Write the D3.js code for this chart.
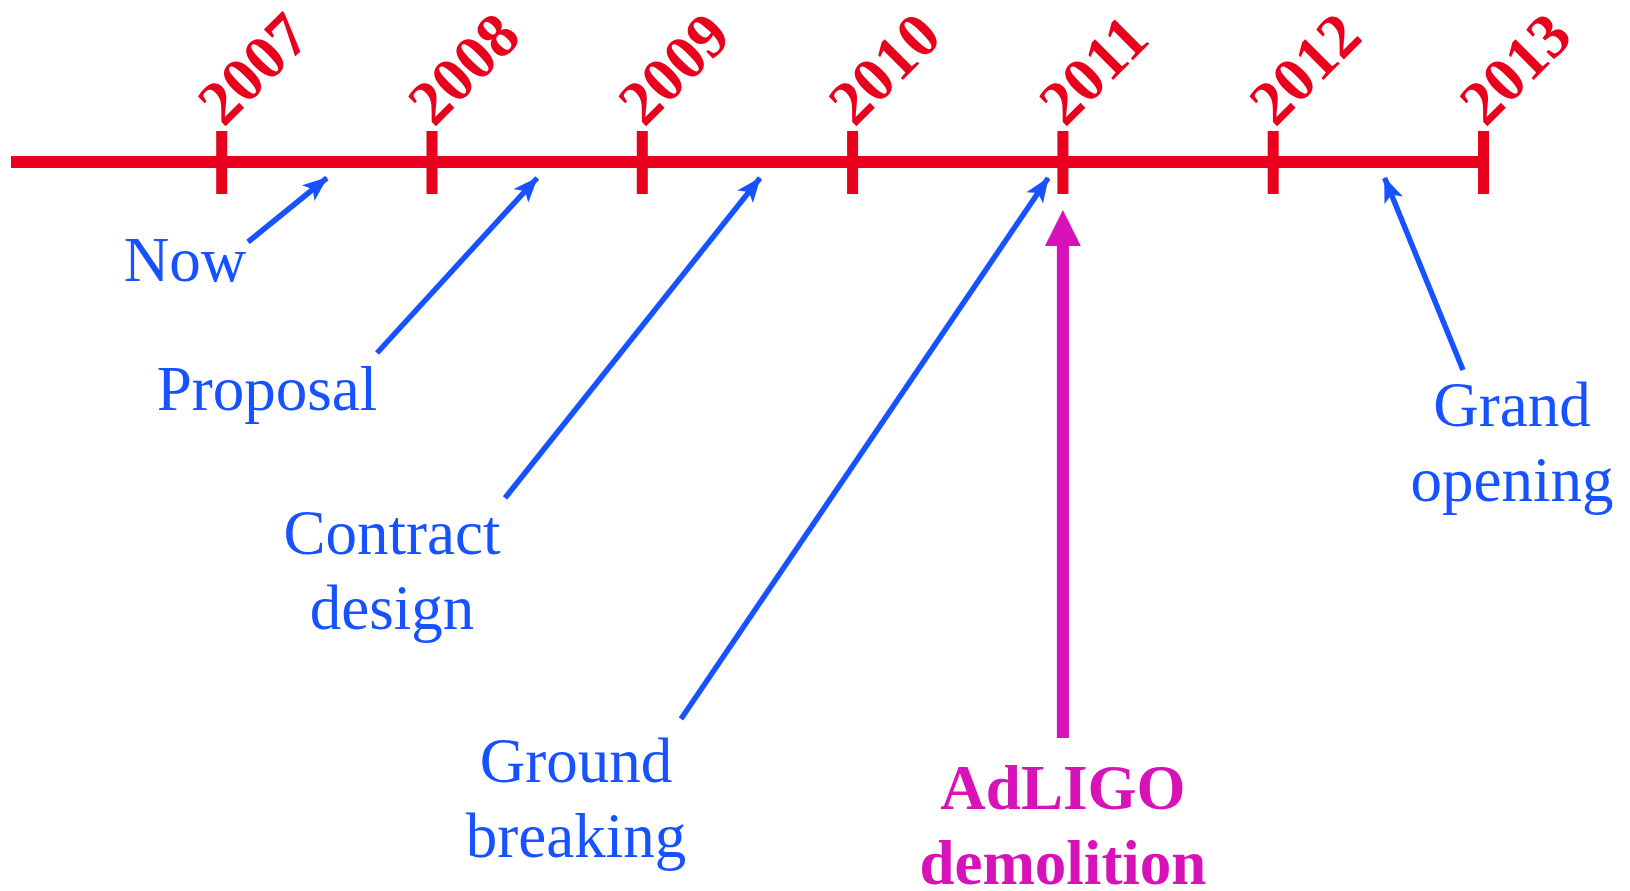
<!DOCTYPE html>
<html lang="en">
<head>
<meta charset="utf-8">
<title>AdLIGO timeline</title>
<script src="https://d3js.org/d3.v7.min.js"></script>
<style>
  html, body { margin: 0; padding: 0; background: #fff; }
  svg text { font-family: "Liberation Serif", "Times New Roman", serif; }
  .year { fill: #e8001c; font-weight: bold; font-size: 63px; }
  .callout { fill: #1652ff; font-size: 63px; text-anchor: middle; }
  .demo { fill: #d712b9; font-weight: bold; font-size: 63px; text-anchor: middle; }
</style>
</head>
<body>
<script>
// timeline years
var years = [2007, 2008, 2009, 2010, 2011, 2012, 2013];

// milestones: label lines + date (fractional year the arrow points at)
var milestoneLabels = [["Now"], ["Proposal"], ["Contract", "design"], ["Ground", "breaking"], ["Grand", "opening"]];
var milestoneDates = [2007.5, 2008.5, 2009.56, 2010.93, 2012.53];

// the demolition marker
var demolitionLabel = ["AdLIGO", "demolition"];
var demolitionDate = 2011;

// where each callout text sits (centre x, first baseline) and where its arrow starts
var calloutLayout = [
  {cx: 185, by: 281, tx: 248, ty: 242},
  {cx: 267, by: 410, tx: 377, ty: 353},
  {cx: 392, by: 554, tx: 505, ty: 498},
  {cx: 576, by: 782, tx: 681, ty: 719},
  {cx: 1512, by: 426, tx: 1463, ty: 370}
];

var width = 1630, height = 891;
var lineY = 162, lineH = 75;

var x = d3.scaleLinear().domain([2007, 2013]).range([221.7, 1483.5]);

var svg = d3.select("body").append("svg")
  .attr("width", width)
  .attr("height", height);

// blue arrowhead
svg.append("defs").append("marker")
  .attr("id", "head")
  .attr("viewBox", "0 -12 26 24")
  .attr("refX", 24).attr("refY", 0)
  .attr("markerUnits", "userSpaceOnUse")
  .attr("markerWidth", 26).attr("markerHeight", 24)
  .attr("orient", "auto")
  .append("path")
  .attr("d", "M0,-10L25,0L0,10L6,0Z")
  .attr("fill", "#1652ff");

// main line
svg.append("line")
  .attr("x1", 11).attr("x2", x(2013))
  .attr("y1", lineY).attr("y2", lineY)
  .attr("stroke", "#e8001c")
  .attr("stroke-width", 12);

// ticks
svg.selectAll(".tick")
  .data(years)
  .enter().append("line")
  .attr("class", "tick")
  .attr("x1", function(d) { return x(d); })
  .attr("x2", function(d) { return x(d); })
  .attr("y1", 131).attr("y2", 194)
  .attr("stroke", "#e8001c")
  .attr("stroke-width", 11);

// year labels, tilted
svg.selectAll(".year")
  .data(years)
  .enter().append("text")
  .attr("class", "year")
  .attr("transform", function(d) { return "translate(" + (x(d) + 2) + ",128) rotate(-45)"; })
  .text(function(d) { return d; });

// blue callouts
var callouts = svg.selectAll(".co")
  .data(milestoneDates)
  .enter().append("g")
  .attr("class", "co");

callouts.append("line")
  .attr("x1", function(d, i) { return calloutLayout[i].tx; })
  .attr("y1", function(d, i) { return calloutLayout[i].ty; })
  .attr("x2", function(d) { return x(d); })
  .attr("y2", 178)
  .attr("stroke", "#1652ff")
  .attr("stroke-width", 5.5)
  .attr("marker-end", "url(#head)");

callouts.each(function(d, i) {
  var g = d3.select(this);
  milestoneLabels[i].forEach(function(s, j) {
    g.append("text")
      .attr("class", "callout")
      .attr("x", calloutLayout[i].cx)
      .attr("y", calloutLayout[i].by + j * lineH)
      .text(s);
  });
});

// magenta demolition arrow
var dx = x(demolitionDate);
svg.append("rect")
  .attr("x", dx - 6).attr("width", 12)
  .attr("y", 240).attr("height", 738 - 240)
  .attr("fill", "#d712b9");
svg.append("path")
  .attr("d", "M" + dx + ",210L" + (dx + 18) + ",246L" + (dx - 18) + ",246Z")
  .attr("fill", "#d712b9");

demolitionLabel.forEach(function(s, j) {
  svg.append("text")
    .attr("class", "demo")
    .attr("x", dx)
    .attr("y", 809 + j * lineH)
    .text(s);
});
</script>
</body>
</html>
